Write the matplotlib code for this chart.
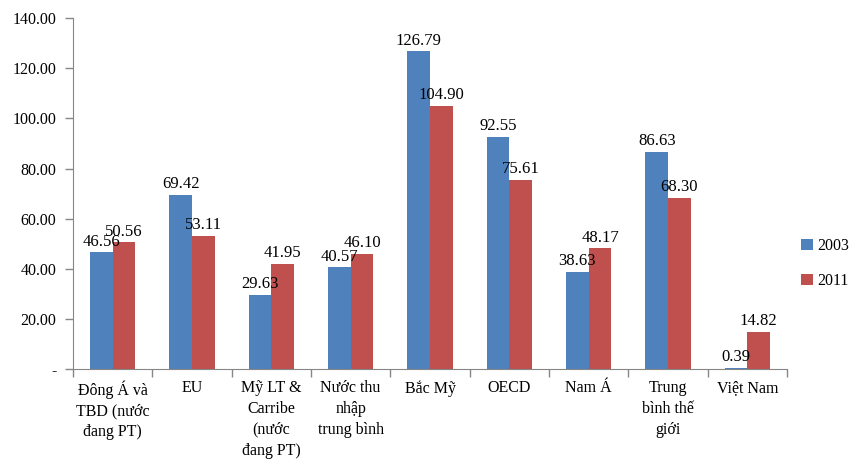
import numpy as np
import matplotlib
matplotlib.use('Agg')
import matplotlib.pyplot as plt

CATEGORIES = ['Đông Á và\nTBD (nước\nđang PT)', 'EU', 'Mỹ LT &\nCarribe\n(nước\nđang PT)',
              'Nước thu\nnhập\ntrung bình', 'Bắc Mỹ', 'OECD', 'Nam Á',
              'Trung\nbình thế\ngiới', 'Việt Nam']
VALUES_2003 = [46.56, 69.42, 29.63, 40.57, 126.79, 92.55, 38.63, 86.63, 0.39]
VALUES_2011 = [50.56, 53.11, 41.95, 46.10, 104.90, 75.61, 48.17, 68.30, 14.82]
YTICKS = [0, 20, 40, 60, 80, 100, 120, 140]

BLUE = '#4F81BD'
RED = '#C0504D'
AXIS = '#868686'

plt.rcParams['font.family'] = ['Liberation Serif', 'DejaVu Serif']
plt.rcParams['font.size'] = 11.5

fig = plt.figure(figsize=(8.49, 4.66), dpi=100)
ax = fig.add_axes([0.086, 0.208, 0.841, 0.753])

x = np.arange(len(CATEGORIES))
w = 1 / 3.5
b1 = ax.bar(x - w / 2, VALUES_2003, w, color=BLUE, label='2003')
b2 = ax.bar(x + w / 2, VALUES_2011, w, color=RED, label='2011')
ax.bar_label(b1, fmt='%.2f', padding=2, fontsize=12)
ax.bar_label(b2, fmt='%.2f', padding=2, fontsize=12)

ax.set_xlim(-0.5, len(CATEGORIES) - 0.5)
ax.set_ylim(0, 140)
ax.set_yticks(YTICKS)
ax.set_yticklabels(['-'] + [f'{v:.2f}' for v in YTICKS[1:]])

# category labels without ticks; boundary ticks on minor locator
ax.set_xticks(x)
ax.set_xticklabels(CATEGORIES, linespacing=1.4, va='top')
ax.tick_params(axis='x', which='major', length=0, pad=8)
ax.set_xticks(np.arange(-0.5, len(CATEGORIES)), minor=True)
ax.tick_params(axis='x', which='minor', length=6, color=AXIS, width=1)
ax.tick_params(axis='y', length=6, color=AXIS, width=1, pad=6)

for s in ['top', 'right']:
    ax.spines[s].set_visible(False)
for s in ['left', 'bottom']:
    ax.spines[s].set_color(AXIS)

ax.legend(loc='center left', bbox_to_anchor=(1.0, 0.30), frameon=False,
          handlelength=0.7, handleheight=0.7, labelspacing=1.2,
          handletextpad=0.3, borderaxespad=0.5, fontsize=11.5)

fig.savefig('out.png', dpi=100)
